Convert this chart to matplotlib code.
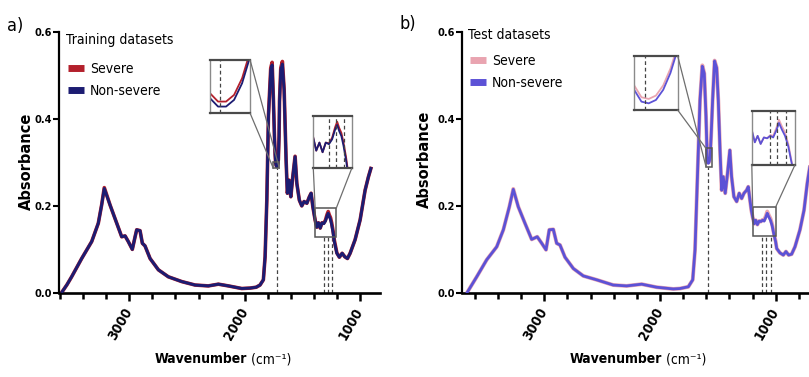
import matplotlib
matplotlib.use("Agg")
import matplotlib.pyplot as plt
from matplotlib.lines import Line2D
from matplotlib.patches import Rectangle, ConnectionPatch
from matplotlib.transforms import ScaledTranslation

plt.rcParams['font.family'] = ['DejaVu Sans']
plt.rcParams['font.stretch'] = 'condensed'

# ---- training spectra (mean absorbance) ----
train_wn = [3581, 3540, 3500, 3413, 3326, 3269, 3240, 3217, 3167, 3109, 3066, 3037, 3009, 2974,
            2950, 2936, 2907, 2887, 2864, 2820, 2748, 2662, 2546, 2430, 2315, 2228, 2141, 2025,
            1953, 1900, 1867, 1838, 1823, 1808, 1794, 1774, 1762, 1751, 1742, 1736, 1732, 1728,
            1724, 1720, 1716, 1712, 1708, 1702, 1698, 1687, 1673, 1658, 1641, 1630, 1615, 1600,
            1583, 1563, 1548, 1526, 1505, 1485, 1461, 1439, 1424, 1409, 1389, 1375, 1360, 1345,
            1330, 1315, 1300, 1286, 1276, 1266, 1256, 1246, 1234, 1222, 1201, 1179, 1155, 1132,
            1109, 1086, 1043, 999, 956, 927, 906]
train_nonsevere = [0.004, 0.020, 0.038, 0.080, 0.119, 0.161, 0.203, 0.241, 0.203, 0.161, 0.130, 0.132, 0.119, 0.101,
                   0.130, 0.146, 0.144, 0.115, 0.109, 0.080, 0.054, 0.038, 0.027, 0.019, 0.017, 0.021, 0.017, 0.011,
                   0.012, 0.014, 0.019, 0.031, 0.084, 0.214, 0.406, 0.513, 0.525, 0.444, 0.360, 0.318, 0.300, 0.2935,
                   0.2910, 0.2910, 0.2930, 0.2980, 0.306, 0.360, 0.440, 0.513, 0.527, 0.467, 0.306, 0.230, 0.260, 0.222,
                   0.268, 0.314, 0.253, 0.214, 0.201, 0.211, 0.207, 0.222, 0.230, 0.199, 0.168, 0.152, 0.162, 0.150,
                   0.162, 0.160, 0.166, 0.178, 0.184, 0.176, 0.170, 0.158, 0.140, 0.118, 0.092, 0.083, 0.092, 0.084,
                   0.080, 0.092, 0.123, 0.169, 0.237, 0.268, 0.287]
train_severe = [0.004, 0.020, 0.038, 0.080, 0.119, 0.161, 0.203, 0.243, 0.203, 0.161, 0.130, 0.132, 0.119, 0.101,
                0.130, 0.146, 0.144, 0.115, 0.109, 0.080, 0.054, 0.038, 0.027, 0.019, 0.017, 0.021, 0.017, 0.011,
                0.012, 0.014, 0.019, 0.031, 0.084, 0.214, 0.408, 0.518, 0.531, 0.446, 0.362, 0.3195, 0.3015, 0.2950,
                0.2925, 0.2925, 0.2945, 0.2995, 0.3075, 0.361, 0.442, 0.518, 0.533, 0.469, 0.307, 0.230, 0.260, 0.222,
                0.268, 0.315, 0.253, 0.214, 0.201, 0.211, 0.207, 0.222, 0.230, 0.199, 0.168, 0.152, 0.162, 0.150,
                0.162, 0.161, 0.168, 0.181, 0.188, 0.180, 0.174, 0.162, 0.144, 0.121, 0.093, 0.083, 0.092, 0.084,
                0.080, 0.092, 0.123, 0.169, 0.237, 0.268, 0.287]

# ---- test spectra (mean absorbance) ----
test_wn = [3671, 3584, 3498, 3411, 3354, 3302, 3268, 3225, 3167, 3109, 3061, 3022, 2985, 2957,
           2922, 2893, 2864, 2821, 2749, 2663, 2547, 2404, 2288, 2158, 2029, 1885, 1827, 1755,
           1717, 1697, 1678, 1654, 1634, 1617, 1602, 1594, 1590, 1586, 1582, 1578, 1574, 1570,
           1566, 1558, 1545, 1528, 1510, 1496, 1481, 1467, 1453, 1436, 1416, 1396, 1381, 1361,
           1337, 1315, 1294, 1274, 1251, 1237, 1222, 1210, 1199, 1185, 1172, 1158, 1143, 1128,
           1113, 1100, 1085, 1073, 1060, 1045, 1030, 1015, 1000, 991, 963, 934, 911, 888,
           862, 833, 790, 755, 727, 705]
test_nonsevere = [0.000, 0.038, 0.077, 0.107, 0.146, 0.199, 0.239, 0.199, 0.161, 0.124, 0.130, 0.115, 0.100, 0.146,
                  0.147, 0.115, 0.111, 0.083, 0.057, 0.040, 0.031, 0.019, 0.017, 0.021, 0.014, 0.010, 0.011, 0.015,
                  0.031, 0.100, 0.253, 0.444, 0.522, 0.505, 0.406, 0.330, 0.303, 0.2995, 0.2990, 0.3000, 0.3030, 0.308,
                  0.315, 0.360, 0.444, 0.534, 0.518, 0.444, 0.329, 0.237, 0.268, 0.230, 0.276, 0.329, 0.268, 0.222,
                  0.211, 0.230, 0.218, 0.230, 0.237, 0.245, 0.214, 0.190, 0.175, 0.160, 0.168, 0.158, 0.166, 0.165,
                  0.168, 0.166, 0.175, 0.184, 0.176, 0.168, 0.155, 0.135, 0.118, 0.103, 0.093, 0.088, 0.096, 0.088,
                  0.090, 0.107, 0.146, 0.191, 0.253, 0.290]
test_severe = [0.000, 0.038, 0.077, 0.107, 0.146, 0.199, 0.240, 0.199, 0.161, 0.124, 0.130, 0.115, 0.100, 0.146,
               0.147, 0.115, 0.111, 0.083, 0.057, 0.040, 0.031, 0.019, 0.017, 0.021, 0.014, 0.010, 0.011, 0.015,
               0.031, 0.100, 0.253, 0.445, 0.524, 0.506, 0.407, 0.331, 0.3043, 0.3008, 0.3003, 0.3013, 0.3043, 0.3093,
               0.316, 0.361, 0.445, 0.535, 0.519, 0.444, 0.329, 0.237, 0.268, 0.230, 0.276, 0.329, 0.268, 0.222,
               0.211, 0.230, 0.218, 0.230, 0.237, 0.245, 0.214, 0.190, 0.175, 0.160, 0.168, 0.158, 0.166, 0.165,
               0.169, 0.168, 0.178, 0.188, 0.180, 0.172, 0.158, 0.137, 0.119, 0.103, 0.093, 0.088, 0.096, 0.088,
               0.090, 0.107, 0.146, 0.191, 0.253, 0.290]

# inset zoom windows: (w_left, w_right, a_low, a_high)
train_zoom1 = (1728, 1708, 0.289, 0.305)
train_zoom2 = (1389, 1207, 0.130, 0.195)
test_zoom1 = (1590, 1566, 0.297, 0.313)
test_zoom2 = (1199, 999, 0.132, 0.199)
# marked regions on the full spectrum
train_box1 = (1751, 1699, 0.287, 0.303)
train_box2 = (1389, 1207, 0.130, 0.195)
test_box1 = (1602, 1553, 0.291, 0.333)
test_box2 = (1199, 999, 0.132, 0.199)
# marked bands (cm-1)
train_bands1 = [1723]
train_bands2 = [1315, 1282, 1243]
test_bands1 = [1584]
test_bands2 = [1117, 1080, 1040]

fig = plt.figure(figsize=(8.09, 3.77), dpi=100)
ax_a = fig.add_axes([0.0733, 0.222, 0.3964, 0.6923])
ax_b = fig.add_axes([0.5714, 0.222, 0.4446, 0.6923])

GRAY = '#6e6e6e'
DASH = (0, (3, 2.2))


def add_inset(ax, bounds, wn, sev, non, c_sev, c_non, zoom, box, bands, links):
    axins = ax.inset_axes(bounds)
    axins.plot(wn, sev, color=c_sev, lw=1.3)
    axins.plot(wn, non, color=c_non, lw=1.3)
    axins.set_xlim(zoom[0], zoom[1])
    axins.set_ylim(zoom[2], zoom[3])
    axins.set_xticks([])
    axins.set_yticks([])
    for side in ['top', 'bottom']:
        axins.spines[side].set_color('#4a4a4a')
        axins.spines[side].set_linewidth(1.6)
    for side in ['left', 'right']:
        axins.spines[side].set_color('#8a8a8a')
        axins.spines[side].set_linewidth(1.0)
    for b in bands:
        axins.axvline(b, color='#444444', lw=0.9, linestyle=DASH)
    # region outline on the full spectrum
    ax.add_patch(Rectangle((box[1], box[2]), box[0] - box[1], box[3] - box[2],
                           fill=False, edgecolor='#555555', lw=1.1, zorder=4))
    for b in bands:
        ax.vlines(b, 0, box[2], colors='#444444', lw=0.9, linestyles=DASH, zorder=1)
    corners = {'l': box[0], 'r': box[1], 'b': box[2], 't': box[3]}
    for (ix, iy), (sx, sy) in links:
        con = ConnectionPatch(xyA=(ix, iy), coordsA=axins.transAxes,
                              xyB=(corners[sx], corners[sy]), coordsB=ax.transData,
                              color=GRAY, lw=0.9)
        fig.add_artist(con)
    return axins


def style_panel(ax, xlim, minors, c_sev, c_non, title, title_xy, leg_anchor, xlab_x, ylab_pos):
    ax.set_xlim(*xlim)
    ax.set_ylim(0, 0.6)
    ax.spines['top'].set_visible(False)
    ax.spines['right'].set_visible(False)
    ax.spines['left'].set_linewidth(1.6)
    ax.spines['bottom'].set_linewidth(1.9)
    ax.set_yticks([0, 0.2, 0.4, 0.6])
    ax.set_yticklabels(['0.0', '0.2', '0.4', '0.6'], fontweight='bold', fontsize=7.8)
    ax.set_xticks([3000, 2000, 1000])
    ax.set_xticks(minors, minor=True)
    ax.set_xticklabels(['3000', '2000', '1000'], fontweight='bold', fontsize=10,
                       rotation=60, ha='right', va='center', rotation_mode='anchor')
    for lab in ax.get_xticklabels():
        lab.set_transform(lab.get_transform() + ScaledTranslation(12 / 100, 0, fig.dpi_scale_trans))
    ax.tick_params(axis='x', which='major', length=6, width=1.8, pad=5)
    ax.tick_params(axis='x', which='minor', length=4.3, width=1.8)
    ax.tick_params(axis='y', length=4, width=1.5, pad=1.5)
    ax.set_ylabel('Absorbance', fontsize=10.5, fontweight='bold', fontstretch='normal',
                  va='center')
    ax.yaxis.set_label_coords(*ylab_pos)
    t1 = ax.text(xlab_x, -0.252, 'Wavenumber', transform=ax.transAxes, fontsize=10,
                 fontweight='bold', ha='right', va='center')
    ax.annotate(' (cm\u207b\u00b9)', xy=(1, 0.5), xycoords=t1, fontsize=10,
                ha='left', va='center')
    ax.text(title_xy[0], title_xy[1], title, transform=ax.transAxes, fontsize=10,
            ha='left', va='center')
    handles = [Line2D([], [], color=c_sev, lw=5, solid_capstyle='butt'),
               Line2D([], [], color=c_non, lw=5, solid_capstyle='butt')]
    leg = ax.legend(handles, ['Severe', 'Non-severe'], loc='upper left',
                    bbox_to_anchor=leg_anchor, frameon=False, fontsize=10,
                    handlelength=1.15, handletextpad=0.45,
                    labelspacing=0.55, borderaxespad=0, borderpad=0)
    return leg


# panel a: training datasets
RED_A, BLUE_A = '#b3202c', '#1c1c72'
ax_a.plot(train_wn, train_severe, color=RED_A, lw=2.6, zorder=2)
ax_a.plot(train_wn, train_nonsevere, color=BLUE_A, lw=2.1, zorder=3)
style_panel(ax_a, (3607, 827), list(range(3600, 900, -200)), RED_A, BLUE_A,
            'Training datasets', (0.022, 0.970), (0.026, 0.886), 0.585, (-0.104, 0.506))
add_inset(ax_a, [0.470, 0.690, 0.125, 0.204], train_wn, train_severe, train_nonsevere,
          RED_A, BLUE_A, train_zoom1, train_box1, train_bands1,
          [((1, 1), ('r', 'b')), ((1, 0), ('l', 'b'))])
add_inset(ax_a, [0.792, 0.479, 0.120, 0.200], train_wn, train_severe, train_nonsevere,
          RED_A, BLUE_A, train_zoom2, train_box2, train_bands2,
          [((0, 0), ('l', 't')), ((1, 0), ('r', 't'))])

# panel b: test datasets
PINK_B, BLUE_B = '#e9a4b0', '#5c52d6'
ax_b.plot(test_wn, test_severe, color=PINK_B, lw=2.8, zorder=2)
ax_b.plot(test_wn, test_nonsevere, color=BLUE_B, lw=2.0, zorder=3)
style_panel(ax_b, (3709, 600), list(range(3600, 700, -200)), PINK_B, BLUE_B,
            'Test datasets', (0.016, 0.989), (0.021, 0.916), 0.555, (-0.104, 0.513))
add_inset(ax_b, [0.478, 0.702, 0.121, 0.207], test_wn, test_severe, test_nonsevere,
          PINK_B, BLUE_B, test_zoom1, test_box1, test_bands1,
          [((1, 1), ('l', 'b')), ((1, 0), ('l', 't'))])
add_inset(ax_b, [0.805, 0.492, 0.120, 0.207], test_wn, test_severe, test_nonsevere,
          PINK_B, BLUE_B, test_zoom2, test_box2, test_bands2,
          [((0, 0), ('l', 't')), ((1, 0), ('r', 't'))])

fig.text(0.009, 0.955, 'a)', fontsize=13, va='top')
fig.text(0.494, 0.96, 'b)', fontsize=13, va='top')

fig.savefig('out.png', dpi=100)
